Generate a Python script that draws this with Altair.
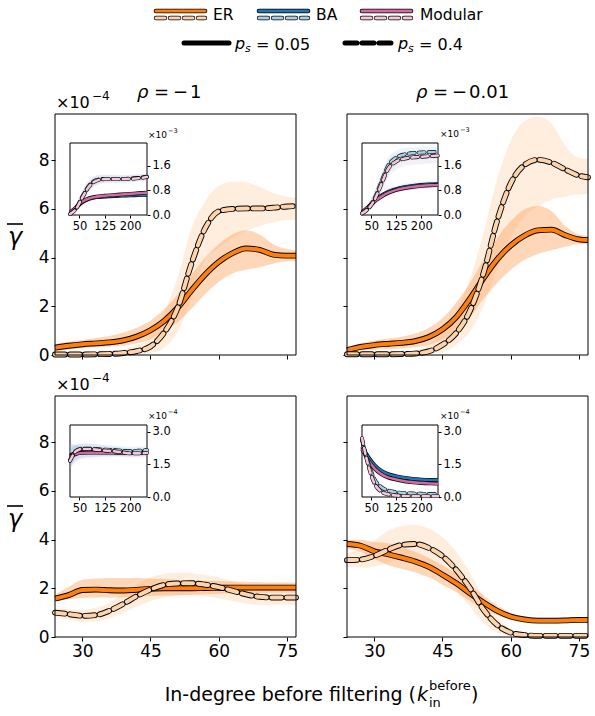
import altair as alt
import pandas as pd

W, H = 595, 716

# ---------------- data ----------------
K = [24, 27, 30, 33, 36, 39, 42, 45, 48, 51, 54, 57, 60, 63, 66, 69, 72, 75, 77]
KI = [22, 40, 60, 80, 100, 125, 150, 175, 200, 225, 250]

# main panels, ER networks (x 1e-4)
tl_er05 = [0.30, 0.38, 0.44, 0.48, 0.52, 0.60, 0.76, 1.02, 1.40, 1.95, 2.65, 3.30, 3.82, 4.18, 4.38, 4.32, 4.12, 4.08, 4.08]
tl_er05_lo = [0.15, 0.22, 0.28, 0.32, 0.34, 0.38, 0.48, 0.65, 0.95, 1.35, 1.90, 2.50, 3.00, 3.35, 3.50, 3.60, 3.75, 3.85, 3.85]
tl_er05_hi = [0.45, 0.55, 0.62, 0.70, 0.78, 0.92, 1.12, 1.42, 1.88, 2.50, 3.30, 4.00, 4.55, 4.95, 5.12, 4.95, 4.55, 4.35, 4.30]
tl_er04 = [0.02, 0.02, 0.02, 0.03, 0.04, 0.08, 0.16, 0.35, 0.92, 1.95, 3.75, 5.20, 5.90, 6.00, 6.02, 6.02, 6.05, 6.10, 6.12]
tl_er04_lo = [0.0, 0.0, 0.0, 0.0, 0.0, 0.0, 0.02, 0.08, 0.30, 0.95, 2.30, 3.90, 4.40, 4.80, 5.10, 5.30, 5.45, 5.55, 5.55]
tl_er04_hi = [0.08, 0.08, 0.08, 0.10, 0.14, 0.22, 0.40, 0.80, 1.75, 3.20, 5.20, 6.30, 6.95, 7.12, 7.10, 6.90, 6.65, 6.50, 6.45]

tr_er05 = [0.20, 0.33, 0.41, 0.46, 0.50, 0.57, 0.74, 1.05, 1.55, 2.30, 3.15, 3.92, 4.50, 4.90, 5.12, 5.15, 4.92, 4.75, 4.72]
tr_er05_lo = [0.10, 0.18, 0.22, 0.25, 0.28, 0.32, 0.42, 0.62, 1.00, 1.55, 2.30, 2.95, 3.50, 3.90, 4.15, 4.30, 4.45, 4.55, 4.55]
tr_er05_hi = [0.30, 0.48, 0.60, 0.68, 0.75, 0.88, 1.12, 1.52, 2.15, 2.95, 3.90, 4.80, 5.50, 5.98, 6.12, 5.90, 5.30, 4.95, 4.90]
tr_er04 = [0.03, 0.03, 0.03, 0.03, 0.04, 0.06, 0.15, 0.42, 0.90, 1.80, 3.35, 5.50, 7.05, 7.80, 8.02, 7.90, 7.62, 7.37, 7.30]
tr_er04_lo = [0.0, 0.0, 0.0, 0.0, 0.0, 0.0, 0.03, 0.12, 0.40, 0.95, 2.00, 3.50, 4.80, 5.70, 6.10, 6.40, 6.50, 6.60, 6.60]
tr_er04_hi = [0.08, 0.08, 0.08, 0.09, 0.12, 0.20, 0.45, 0.95, 1.80, 3.10, 5.00, 7.20, 8.80, 9.60, 9.80, 9.50, 8.60, 8.10, 8.05]

bl_er05 = [1.58, 1.72, 1.93, 1.95, 1.92, 1.91, 1.94, 1.98, 2.00, 2.00, 2.00, 2.01, 2.02, 2.03, 2.03, 2.03, 2.03, 2.03, 2.03]
bl_er05_lo = [1.45, 1.55, 1.60, 1.62, 1.62, 1.63, 1.65, 1.68, 1.70, 1.72, 1.74, 1.76, 1.78, 1.79, 1.80, 1.81, 1.82, 1.82, 1.82]
bl_er05_hi = [1.75, 2.05, 2.35, 2.40, 2.42, 2.42, 2.42, 2.40, 2.38, 2.35, 2.32, 2.30, 2.30, 2.28, 2.27, 2.25, 2.24, 2.24, 2.24]
bl_er04 = [1.00, 0.94, 0.87, 0.90, 1.08, 1.36, 1.68, 1.95, 2.14, 2.20, 2.21, 2.15, 2.05, 1.90, 1.75, 1.65, 1.62, 1.62, 1.62]
bl_er04_lo = [0.82, 0.72, 0.62, 0.65, 0.78, 1.00, 1.25, 1.48, 1.62, 1.70, 1.72, 1.68, 1.58, 1.48, 1.38, 1.32, 1.32, 1.32, 1.32]
bl_er04_hi = [1.18, 1.15, 1.12, 1.20, 1.42, 1.78, 2.15, 2.45, 2.60, 2.65, 2.62, 2.55, 2.45, 2.30, 2.12, 1.98, 1.92, 1.92, 1.92]

br_er05 = [3.82, 3.75, 3.52, 3.40, 3.26, 3.10, 2.88, 2.56, 2.21, 1.80, 1.42, 1.08, 0.84, 0.72, 0.67, 0.67, 0.68, 0.70, 0.70]
br_er05_lo = [3.60, 3.50, 3.20, 2.95, 2.80, 2.65, 2.45, 2.15, 1.85, 1.48, 1.15, 0.88, 0.70, 0.60, 0.57, 0.57, 0.58, 0.60, 0.60]
br_er05_hi = [4.00, 4.00, 3.90, 3.85, 3.70, 3.50, 3.25, 2.95, 2.58, 2.15, 1.72, 1.30, 1.00, 0.84, 0.78, 0.78, 0.79, 0.80, 0.80]
br_er04 = [3.16, 3.18, 3.33, 3.58, 3.78, 3.82, 3.66, 3.32, 2.76, 2.02, 1.13, 0.50, 0.18, 0.08, 0.05, 0.05, 0.05, 0.05, 0.05]
br_er04_lo = [2.90, 2.85, 2.90, 3.05, 3.20, 3.20, 2.95, 2.55, 1.95, 1.25, 0.58, 0.20, 0.05, 0.02, 0.01, 0.01, 0.01, 0.01, 0.01]
br_er04_hi = [3.45, 3.60, 3.95, 4.35, 4.55, 4.60, 4.45, 4.10, 3.50, 2.65, 1.65, 0.80, 0.32, 0.14, 0.09, 0.08, 0.08, 0.08, 0.08]

# insets, BA and Modular networks (top: x 1e-3, bottom: x 1e-4)
tl_ba05 = [0.07, 0.24, 0.43, 0.53, 0.58, 0.60, 0.62, 0.63, 0.64, 0.65, 0.66]
tl_ba05_lo = [0.02, 0.18, 0.35, 0.46, 0.52, 0.55, 0.57, 0.58, 0.59, 0.60, 0.61]
tl_ba05_hi = [0.14, 0.32, 0.52, 0.62, 0.66, 0.68, 0.69, 0.70, 0.71, 0.72, 0.73]
tl_mod05 = [0.08, 0.25, 0.45, 0.55, 0.60, 0.63, 0.65, 0.67, 0.69, 0.71, 0.73]
tl_mod05_lo = [0.03, 0.19, 0.38, 0.48, 0.54, 0.57, 0.59, 0.61, 0.63, 0.65, 0.67]
tl_mod05_hi = [0.13, 0.31, 0.52, 0.62, 0.67, 0.70, 0.72, 0.74, 0.76, 0.78, 0.80]
tl_ba04 = [0.03, 0.22, 0.63, 0.98, 1.14, 1.18, 1.18, 1.18, 1.19, 1.21, 1.25]
tl_ba04_lo = [0.0, 0.10, 0.42, 0.80, 0.98, 1.05, 1.06, 1.07, 1.08, 1.10, 1.14]
tl_ba04_hi = [0.08, 0.36, 0.85, 1.18, 1.30, 1.32, 1.31, 1.30, 1.31, 1.33, 1.36]
tl_mod04 = [0.03, 0.20, 0.60, 0.95, 1.12, 1.17, 1.17, 1.17, 1.18, 1.20, 1.24]
tl_mod04_lo = [0.0, 0.10, 0.40, 0.78, 0.97, 1.04, 1.05, 1.06, 1.07, 1.09, 1.13]
tl_mod04_hi = [0.07, 0.33, 0.80, 1.12, 1.27, 1.30, 1.29, 1.28, 1.29, 1.31, 1.35]

tr_ba05 = [0.08, 0.26, 0.47, 0.63, 0.75, 0.85, 0.91, 0.95, 0.98, 1.00, 1.01]
tr_ba05_lo = [0.03, 0.18, 0.38, 0.53, 0.65, 0.75, 0.81, 0.85, 0.88, 0.90, 0.91]
tr_ba05_hi = [0.13, 0.34, 0.56, 0.73, 0.85, 0.95, 1.01, 1.05, 1.08, 1.10, 1.11]
tr_mod05 = [0.08, 0.25, 0.45, 0.60, 0.72, 0.82, 0.88, 0.92, 0.95, 0.97, 0.98]
tr_mod05_lo = [0.03, 0.17, 0.36, 0.50, 0.62, 0.72, 0.78, 0.82, 0.85, 0.87, 0.88]
tr_mod05_hi = [0.13, 0.33, 0.54, 0.70, 0.82, 0.92, 0.98, 1.02, 1.05, 1.07, 1.08]
tr_ba04 = [0.05, 0.22, 0.55, 1.08, 1.60, 1.88, 1.98, 2.02, 2.04, 2.05, 2.06]
tr_ba04_lo = [0.0, 0.10, 0.35, 0.80, 1.30, 1.62, 1.75, 1.80, 1.82, 1.83, 1.84]
tr_ba04_hi = [0.10, 0.36, 0.80, 1.38, 1.88, 2.10, 2.18, 2.20, 2.21, 2.22, 2.22]
tr_mod04 = [0.05, 0.20, 0.50, 1.00, 1.50, 1.75, 1.84, 1.88, 1.90, 1.92, 1.94]
tr_mod04_lo = [0.0, 0.09, 0.30, 0.72, 1.20, 1.48, 1.60, 1.64, 1.66, 1.68, 1.70]
tr_mod04_hi = [0.10, 0.34, 0.75, 1.30, 1.78, 2.00, 2.06, 2.09, 2.10, 2.12, 2.14]

bl_ba05 = [1.90, 2.02, 2.06, 2.07, 2.07, 2.06, 2.06, 2.05, 2.05, 2.05, 2.05]
bl_ba05_lo = [1.40, 1.70, 1.80, 1.84, 1.86, 1.87, 1.88, 1.88, 1.89, 1.90, 1.90]
bl_ba05_hi = [2.45, 2.40, 2.35, 2.32, 2.30, 2.28, 2.26, 2.24, 2.22, 2.22, 2.22]
bl_mod05 = [1.85, 1.98, 2.02, 2.03, 2.03, 2.03, 2.03, 2.02, 2.02, 2.02, 2.02]
bl_mod05_lo = [1.30, 1.62, 1.75, 1.80, 1.82, 1.84, 1.85, 1.86, 1.86, 1.87, 1.87]
bl_mod05_hi = [2.40, 2.35, 2.30, 2.27, 2.25, 2.23, 2.21, 2.19, 2.18, 2.17, 2.17]
bl_ba04 = [1.70, 2.12, 2.22, 2.22, 2.20, 2.17, 2.15, 2.12, 2.10, 2.12, 2.15]
bl_ba04_lo = [1.30, 1.85, 1.98, 2.00, 1.99, 1.97, 1.95, 1.93, 1.92, 1.94, 1.96]
bl_ba04_hi = [2.20, 2.40, 2.46, 2.45, 2.42, 2.38, 2.35, 2.32, 2.30, 2.31, 2.34]
bl_mod04 = [1.65, 2.10, 2.20, 2.20, 2.17, 2.13, 2.10, 2.05, 2.00, 2.00, 2.02]
bl_mod04_lo = [1.25, 1.82, 1.95, 1.97, 1.95, 1.92, 1.89, 1.85, 1.81, 1.81, 1.83]
bl_mod04_hi = [2.10, 2.38, 2.44, 2.43, 2.40, 2.35, 2.31, 2.26, 2.20, 2.20, 2.22]

br_ba05 = [2.30, 1.85, 1.45, 1.20, 1.05, 0.95, 0.88, 0.83, 0.80, 0.78, 0.77]
br_ba05_lo = [2.00, 1.62, 1.28, 1.06, 0.93, 0.84, 0.78, 0.74, 0.71, 0.69, 0.68]
br_ba05_hi = [2.60, 2.08, 1.62, 1.34, 1.17, 1.06, 0.98, 0.92, 0.89, 0.87, 0.86]
br_mod05 = [2.20, 1.70, 1.30, 1.05, 0.90, 0.80, 0.72, 0.67, 0.64, 0.62, 0.61]
br_mod05_lo = [1.90, 1.48, 1.13, 0.91, 0.78, 0.69, 0.62, 0.58, 0.55, 0.53, 0.52]
br_mod05_hi = [2.50, 1.92, 1.47, 1.19, 1.02, 0.91, 0.82, 0.76, 0.73, 0.71, 0.70]
br_ba04 = [2.60, 1.60, 0.80, 0.45, 0.30, 0.22, 0.18, 0.16, 0.15, 0.14, 0.14]
br_ba04_lo = [2.20, 1.25, 0.55, 0.28, 0.17, 0.12, 0.09, 0.08, 0.07, 0.07, 0.07]
br_ba04_hi = [3.00, 1.95, 1.05, 0.62, 0.43, 0.32, 0.27, 0.24, 0.23, 0.21, 0.21]
br_mod04 = [2.70, 1.50, 0.60, 0.25, 0.12, 0.07, 0.05, 0.04, 0.04, 0.04, 0.04]
br_mod04_lo = [2.30, 1.15, 0.38, 0.12, 0.04, 0.01, 0.0, 0.0, 0.0, 0.0, 0.0]
br_mod04_hi = [3.10, 1.85, 0.82, 0.38, 0.20, 0.13, 0.10, 0.08, 0.08, 0.08, 0.08]

MAIN_XTICKS = [30, 45, 60, 75]
MAIN_YTICKS = [0, 2, 4, 6, 8]
INSET_XTICKS = [50, 125, 200]
TOP_INSET_YTICKS = [0.0, 0.8, 1.6]
BOT_INSET_YTICKS = [0.0, 1.5, 3.0]

# ---------------- styles ----------------
FONT = "DejaVu Sans"
ER_C, ER_P = "#ff7f0e", "#fdd3ac"
BA_C, BA_P = "#1f77b4", "#a9cfe5"
MOD_C, MOD_P = "#d26ba0", "#f6c7db"
ER05_BAND, ER04_BAND = "#fb8c35", "#fdae6b"
BA_BAND, MOD_BAND = "#6baed6", "#a59bd0"


def df_of(k, v, lo, hi):
    return pd.DataFrame({"k": k, "v": v, "lo": lo, "hi": hi})


def axis_x(bottom, size, tick, labels, values):
    return alt.Axis(orient="bottom", offset=bottom - H, values=values, domain=False,
                    grid=False, ticks=True, tickSize=tick, tickColor="black", tickWidth=1,
                    labels=labels, labelFontSize=size, labelColor="black", labelFont=FONT,
                    labelPadding=2, labelFlush=False, labelOverlap=False, title=None)


def axis_y(orient, off, size, tick, labels, values, fmt):
    return alt.Axis(orient=orient, offset=off, values=values, domain=False,
                    grid=False, ticks=True, tickSize=tick, tickColor="black", tickWidth=1,
                    labels=labels, labelFontSize=size, labelColor="black", labelFont=FONT,
                    labelPadding=2, labelFlush=False, labelOverlap=False, format=fmt, title=None)


def group(series, xdom, xrng, ydom, yrng, xaxis, yaxis, w_in, w_out, dash, inset):
    xs = alt.Scale(domain=xdom, range=xrng, nice=False, zero=False)
    ys = alt.Scale(domain=ydom, range=yrng, nice=False, zero=False)
    one = pd.DataFrame({"a": [0]})
    layers = []
    frame = alt.Chart(one).mark_rect(
        fill="white" if inset else "transparent", stroke="black", strokeWidth=1
    ).encode(
        x=alt.XDatum(xdom[0], type="quantitative", scale=xs, axis=xaxis),
        x2=alt.X2Datum(xdom[1]),
        y=alt.YDatum(ydom[0], type="quantitative", scale=ys, axis=yaxis),
        y2=alt.Y2Datum(ydom[1]),
    )
    if inset:
        layers.append(frame)
    for df, col, band, bop, dashed in series:
        layers.append(
            alt.Chart(df).mark_area(interpolate="monotone", color=band, opacity=bop).encode(
                x=alt.X("k:Q", scale=xs, axis=xaxis),
                y=alt.Y("lo:Q", scale=ys, axis=yaxis),
                y2="hi:Q",
            )
        )
    for df, col, band, bop, dashed in series:
        base = alt.Chart(df).encode(
            x=alt.X("k:Q", scale=xs, axis=xaxis),
            y=alt.Y("v:Q", scale=ys, axis=yaxis),
        )
        kw = dict(interpolate="monotone", strokeJoin="round")
        if dashed:
            kw["strokeDash"] = dash
            kw["strokeCap"] = "round"
        else:
            kw["strokeCap"] = "butt"
        layers.append(base.mark_line(color="black", strokeWidth=w_out, **kw))
        layers.append(base.mark_line(color=col, strokeWidth=w_in, **kw))
    if not inset:
        layers.append(frame)
    return alt.layer(*layers)


def text(t, x, y, size, align="left", style="normal", baseline="middle"):
    return alt.Chart(pd.DataFrame({"t": [t]})).mark_text(
        align=align, baseline=baseline, fontSize=size, font=FONT, fontStyle=style, color="black"
    ).encode(x=alt.value(x), y=alt.value(y), text="t:N")


def rule(x1, x2, y, color, width, dash=None, cap="round"):
    kw = {}
    if dash:
        kw["strokeDash"] = dash
    return alt.Chart(pd.DataFrame({"a": [0]})).mark_rule(
        color=color, strokeWidth=width, strokeCap=cap, **kw
    ).encode(x=alt.value(x1), x2=alt.value(x2), y=alt.value(y))


# ---------------- panels ----------------
MAIN_X = {"l": (55, 296), "r": (347, 588)}
MAIN_Y = {"t": (355, 114), "b": (637, 396)}
INS_X = {"l": (70, 147), "r": (362, 438)}
INS_Y = {"t": (215, 143), "b": (497, 425)}

main_data = {
    "tl": (df_of(K, tl_er05, tl_er05_lo, tl_er05_hi), df_of(K, tl_er04, tl_er04_lo, tl_er04_hi)),
    "tr": (df_of(K, tr_er05, tr_er05_lo, tr_er05_hi), df_of(K, tr_er04, tr_er04_lo, tr_er04_hi)),
    "bl": (df_of(K, bl_er05, bl_er05_lo, bl_er05_hi), df_of(K, bl_er04, bl_er04_lo, bl_er04_hi)),
    "br": (df_of(K, br_er05, br_er05_lo, br_er05_hi), df_of(K, br_er04, br_er04_lo, br_er04_hi)),
}
inset_data = {
    "tl": [df_of(KI, tl_ba05, tl_ba05_lo, tl_ba05_hi), df_of(KI, tl_mod05, tl_mod05_lo, tl_mod05_hi),
           df_of(KI, tl_ba04, tl_ba04_lo, tl_ba04_hi), df_of(KI, tl_mod04, tl_mod04_lo, tl_mod04_hi)],
    "tr": [df_of(KI, tr_ba05, tr_ba05_lo, tr_ba05_hi), df_of(KI, tr_mod05, tr_mod05_lo, tr_mod05_hi),
           df_of(KI, tr_ba04, tr_ba04_lo, tr_ba04_hi), df_of(KI, tr_mod04, tr_mod04_lo, tr_mod04_hi)],
    "bl": [df_of(KI, bl_ba05, bl_ba05_lo, bl_ba05_hi), df_of(KI, bl_mod05, bl_mod05_lo, bl_mod05_hi),
           df_of(KI, bl_ba04, bl_ba04_lo, bl_ba04_hi), df_of(KI, bl_mod04, bl_mod04_lo, bl_mod04_hi)],
    "br": [df_of(KI, br_ba05, br_ba05_lo, br_ba05_hi), df_of(KI, br_mod05, br_mod05_lo, br_mod05_hi),
           df_of(KI, br_ba04, br_ba04_lo, br_ba04_hi), df_of(KI, br_mod04, br_mod04_lo, br_mod04_hi)],
}

groups = []
insets = []
for key in ["tl", "tr", "bl", "br"]:
    row, col = key[0], key[1]
    x0, x1 = MAIN_X[col]
    yb, yt = MAIN_Y[row]
    d05, d04 = main_data[key]
    groups.append(group(
        [(d05, ER_C, ER05_BAND, 0.35, False), (d04, ER_P, ER04_BAND, 0.22, True)],
        [24, 77], [x0, x1], [0, 9.9], [yb, yt],
        axis_x(yb, 17, 4, row == "b", MAIN_XTICKS),
        axis_y("left", -x0, 17, 4, col == "l", MAIN_YTICKS, "d"),
        4, 5.8, [10, 5], False,
    ))
    ix0, ix1 = INS_X[col]
    iyb, iyt = INS_Y[row]
    ba05, mod05, ba04, mod04 = inset_data[key]
    ydom = [0, 2.35] if row == "t" else [0, 3.3]
    yticks = TOP_INSET_YTICKS if row == "t" else BOT_INSET_YTICKS
    insets.append(group(
        [(ba05, BA_C, BA_BAND, 0.18, False), (mod05, MOD_C, MOD_BAND, 0.18, False),
         (ba04, BA_P, BA_BAND, 0.14, True), (mod04, MOD_P, MOD_BAND, 0.14, True)],
        [22, 250], [ix0, ix1], ydom, [iyb, iyt],
        axis_x(iyb, 11.5, 3, True, INSET_XTICKS),
        axis_y("right", ix1 - W, 11.5, 3, True, yticks, ".1f"),
        2.6, 3.8, [6, 4], True,
    ))

# ---------------- annotations ----------------
ann = []
# legend row 1
for (sx, tx, label, c, p) in [(156, 213, "ER", ER_C, ER_P), (259, 316, "BA", BA_C, BA_P),
                              (362, 420, "Modular", MOD_C, MOD_P)]:
    ann.append(rule(sx, sx + 49, 11, "black", 4.6, cap="round"))
    ann.append(rule(sx, sx + 49, 11, c, 3, cap="round"))
    ann.append(rule(sx, sx + 49, 18, "black", 4.4, dash=[9, 5]))
    ann.append(rule(sx, sx + 49, 18, p, 3, dash=[9, 5]))
    ann.append(text(label, tx, 15, 15.5))
# legend row 2
ann.append(rule(184, 229, 43, "black", 5, cap="round"))
ann.append(rule(345, 391, 43, "black", 5, dash=[12, 5]))
ann.append(text("p", 235, 44, 16, style="italic"))
ann.append(text("s", 245, 49, 11, style="italic"))
ann.append(text("= 0.05", 256, 45, 16))
ann.append(text("p", 398, 44, 16, style="italic"))
ann.append(text("s", 408, 49, 11, style="italic"))
ann.append(text("= 0.4", 419, 45, 16))
# column titles (math-style spacing)
for (x, val) in [(137, "1"), (416, "0.01")]:
    ann.append(text("ρ", x, 93, 18, style="italic"))
    ann.append(text("=", x + 17, 93, 18))
    ann.append(text("−", x + 36, 93, 18))
    ann.append(text(val, x + 53, 93, 18))
# multipliers
for yy in (103, 385):
    ann.append(text("×10", 56, yy, 16))
    ann.append(text("−4", 92, yy - 7, 12))
for (xx, yy, e) in [(148, 135, "−3"), (440, 134, "−3"), (148, 416, "−4"), (440, 416, "−4")]:
    ann.append(text("×10", xx, yy, 9))
    ann.append(text(e, xx + 20, yy - 4, 6.5))
# y labels (gamma with overbar)
for yy in (238, 520):
    ann.append(text("γ", 15, yy, 24, align="center", style="italic"))
    ann.append(rule(7, 23, yy - 14, "black", 1.6, cap="butt"))
# x label
ann.append(text("In-degree before filtering (", 416, 695, 19, align="right"))
ann.append(text("k", 417, 695, 19, style="italic"))
ann.append(text("before", 429, 686, 13))
ann.append(text("in", 429, 703, 13))
ann.append(text(")", 471, 695, 19))

chart = alt.layer(*groups, *insets, *ann).resolve_scale(
    x="independent", y="independent"
).properties(
    width=W, height=H, autosize=alt.AutoSizeParams(type="none"), padding=0
).configure_view(stroke=None)

chart.save("out.html", embed_options={"renderer": "svg", "actions": False})
